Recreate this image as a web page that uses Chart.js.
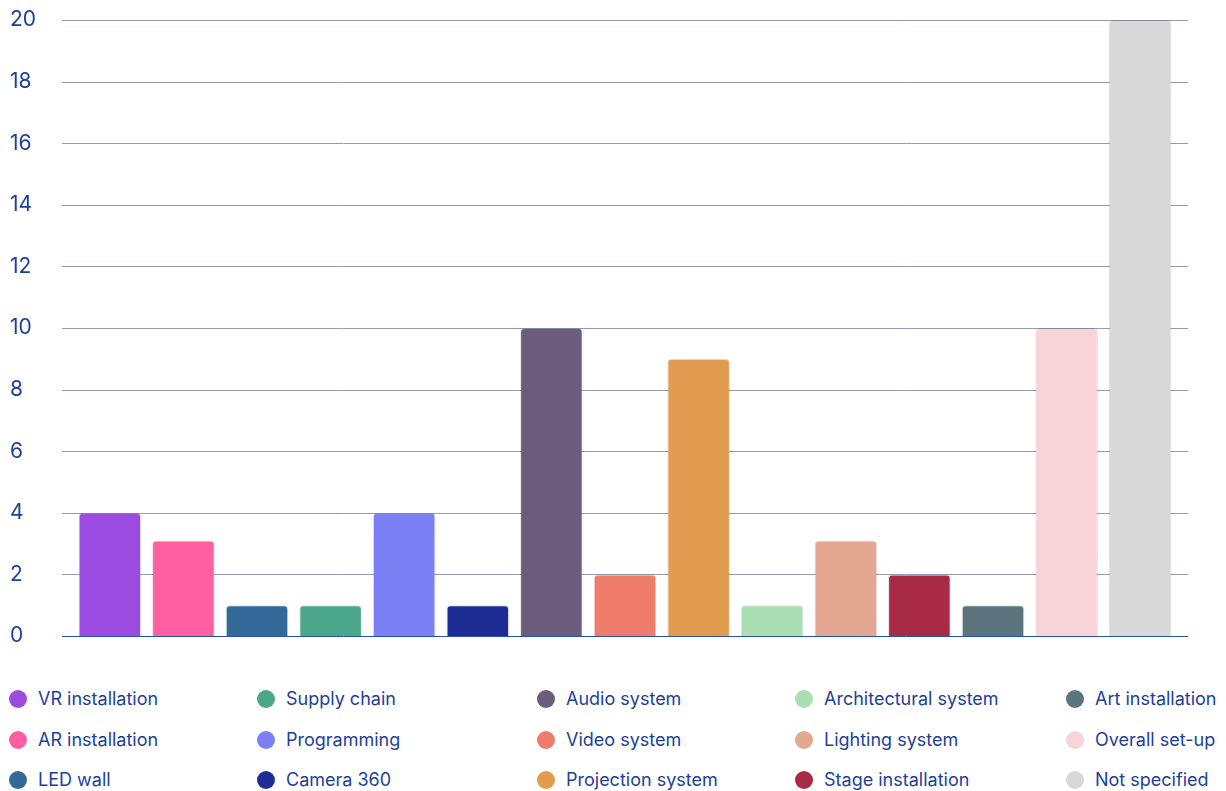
<!DOCTYPE html>
<html>
<head>
<meta charset="utf-8">
<script src="https://cdn.jsdelivr.net/npm/chart.js@4.4.1/dist/chart.umd.min.js"></script>
<style>
    html, body { margin: 0; padding: 0; background: #fff; }
    body { width: 1226px; height: 791px; position: relative; overflow: hidden; font-family: Inter, "Noto Sans", sans-serif; }
    #wrap { position: absolute; left: 0; top: 0; width: 1226px; height: 650px; }
    #legend { position: absolute; left: 0; top: 679px; width: 1226px; height: 112px; }
    .item { position: absolute; display: flex; align-items: center; color: #1e3f9a; font-size: 18px; white-space: nowrap; }
    .dot { width: 18px; height: 18px; border-radius: 50%; margin-right: 11px; }
</style>
</head>
<body>
<div id="wrap"><canvas id="chart"></canvas></div>
<div id="legend"></div>
<script>
    // Categories, values and colours, in bar order
    const categories = [
        "VR installation", "AR installation", "LED wall", "Supply chain", "Programming",
        "Camera 360", "Audio system", "Video system", "Projection system", "Architectural system",
        "Lighting system", "Stage installation", "Art installation", "Overall set-up", "Not specified"
    ];
    const counts = [4, 3.1, 1, 1, 4, 1, 10, 2, 9, 1, 3.1, 2, 1, 10, 20];
    const colors = [
        "#9b4bdf", "#ff5ea0", "#336a9a", "#4ba68a", "#7b80f5",
        "#1e2d96", "#6b5c7c", "#f07c6c", "#e29c4f", "#a9dfb2",
        "#e4a791", "#a82a45", "#5c747e", "#f8d4d9", "#d8d8d8"
    ];
    const yTicks = {min: 0, max: 20, step: 2};

    const textColor = "#1e3f9a";

    /**
     * Draws the horizontal grid lines a bit wider than the chart area.
     */
    const wideGrid = {
        id: "wideGrid",
        beforeDatasetsDraw(chart) {
            const ctx = chart.ctx;
            const area = chart.chartArea;
            const y = chart.scales.y;

            ctx.save();
            ctx.lineWidth = 1;
            y.ticks.forEach((tick) => {
                const py = Math.round(y.getPixelForValue(tick.value)) + 0.5;
                ctx.strokeStyle = tick.value === 0 ? "#2450b8" : "#949bb8";
                ctx.beginPath();
                ctx.moveTo(area.left - 11, py);
                ctx.lineTo(area.right + 11, py);
                ctx.stroke();
            });
            ctx.restore();
        }
    };

    new Chart(document.getElementById("chart"), {
        type: "bar",
        data: {
            labels: categories,
            datasets: [{
                data: counts,
                backgroundColor: colors,
                borderColor: "rgba(0, 0, 0, 0.12)",
                borderWidth: 1,
                borderRadius: {topLeft: 4, topRight: 4},
                borderSkipped: "bottom",
                categoryPercentage: 1,
                barPercentage: 0.85
            }]
        },
        options: {
            responsive: true,
            maintainAspectRatio: false,
            animation: false,
            layout: {padding: {top: 20, right: 49, bottom: 14, left: 10}},
            plugins: {
                legend: {display: false},
                tooltip: {enabled: false}
            },
            scales: {
                x: {display: false},
                y: {
                    min: yTicks.min,
                    max: yTicks.max,
                    ticks: {
                        stepSize: yTicks.step,
                        color: textColor,
                        crossAlign: "far",
                        padding: 0,
                        font: {family: "Inter", size: 21}
                    },
                    grid: {display: false},
                    border: {display: false},
                    afterFit(scale) {
                        scale.width = 63;
                    }
                }
            }
        },
        plugins: [wideGrid]
    });

    // Legend, filled column by column (3 rows, 5 columns)
    const legend = document.getElementById("legend");
    const columnLeft = [9, 257, 537, 795, 1066];
    const rowTop = [9, 50, 90];
    categories.forEach((name, i) => {
        const col = Math.floor(i / 3);
        const row = i % 3;
        const item = document.createElement("div");
        item.className = "item";
        item.style.left = columnLeft[col] + "px";
        item.style.top = rowTop[row] + "px";
        item.innerHTML = '<span class="dot" style="background:' + colors[i] + '"></span>' + name;
        legend.appendChild(item);
    });
</script>
</body>
</html>
